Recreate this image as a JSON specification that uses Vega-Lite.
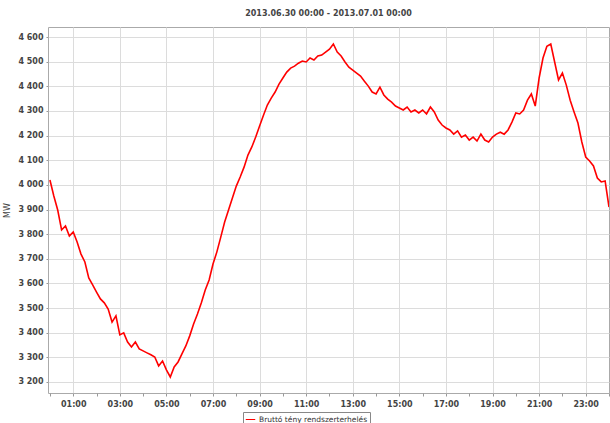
{
  "$schema": "https://vega.github.io/schema/vega-lite/v6.json",
  "width": 561,
  "height": 366,
  "autosize": "none",
  "padding": {"left": 48, "top": 27, "right": 1, "bottom": 30},
  "background": "white",
  "title": {"text": "2013.06.30 00:00 - 2013.07.01 00:00", "fontSize": 8, "fontWeight": "bold", "color": "#444", "font": "DejaVu Sans", "offset": 9, "anchor": "middle"},
  "config": {
    "view": {"stroke": "#aaa", "strokeWidth": 1},
    "axis": {"labelFont": "DejaVu Sans", "titleFont": "DejaVu Sans", "labelColor": "#444", "titleColor": "#444", "gridColor": "#dcdcdc", "domainColor": "#999", "tickColor": "#999"}
  },
  "data": {"values": [
    {"t":"2013-06-30T00:00:00","mw":4020},{"t":"2013-06-30T00:10:00","mw":3955},{"t":"2013-06-30T00:20:00","mw":3898},{"t":"2013-06-30T00:30:00","mw":3817},{"t":"2013-06-30T00:40:00","mw":3833},{"t":"2013-06-30T00:50:00","mw":3792},
    {"t":"2013-06-30T01:00:00","mw":3809},{"t":"2013-06-30T01:10:00","mw":3768},{"t":"2013-06-30T01:20:00","mw":3719},{"t":"2013-06-30T01:30:00","mw":3687},{"t":"2013-06-30T01:40:00","mw":3622},{"t":"2013-06-30T01:50:00","mw":3594},
    {"t":"2013-06-30T02:00:00","mw":3565},{"t":"2013-06-30T02:10:00","mw":3537},{"t":"2013-06-30T02:20:00","mw":3521},{"t":"2013-06-30T02:30:00","mw":3496},{"t":"2013-06-30T02:40:00","mw":3443},{"t":"2013-06-30T02:50:00","mw":3468},
    {"t":"2013-06-30T03:00:00","mw":3391},{"t":"2013-06-30T03:10:00","mw":3399},{"t":"2013-06-30T03:20:00","mw":3362},{"t":"2013-06-30T03:30:00","mw":3342},{"t":"2013-06-30T03:40:00","mw":3362},{"t":"2013-06-30T03:50:00","mw":3334},
    {"t":"2013-06-30T04:00:00","mw":3326},{"t":"2013-06-30T04:10:00","mw":3318},{"t":"2013-06-30T04:20:00","mw":3310},{"t":"2013-06-30T04:30:00","mw":3301},{"t":"2013-06-30T04:40:00","mw":3265},{"t":"2013-06-30T04:50:00","mw":3285},
    {"t":"2013-06-30T05:00:00","mw":3249},{"t":"2013-06-30T05:10:00","mw":3220},{"t":"2013-06-30T05:20:00","mw":3261},{"t":"2013-06-30T05:30:00","mw":3281},{"t":"2013-06-30T05:40:00","mw":3314},{"t":"2013-06-30T05:50:00","mw":3346},
    {"t":"2013-06-30T06:00:00","mw":3387},{"t":"2013-06-30T06:10:00","mw":3435},{"t":"2013-06-30T06:20:00","mw":3476},{"t":"2013-06-30T06:30:00","mw":3521},{"t":"2013-06-30T06:40:00","mw":3573},{"t":"2013-06-30T06:50:00","mw":3614},
    {"t":"2013-06-30T07:00:00","mw":3679},{"t":"2013-06-30T07:10:00","mw":3728},{"t":"2013-06-30T07:20:00","mw":3788},{"t":"2013-06-30T07:30:00","mw":3849},{"t":"2013-06-30T07:40:00","mw":3898},{"t":"2013-06-30T07:50:00","mw":3947},
    {"t":"2013-06-30T08:00:00","mw":3995},{"t":"2013-06-30T08:10:00","mw":4032},{"t":"2013-06-30T08:20:00","mw":4072},{"t":"2013-06-30T08:30:00","mw":4121},{"t":"2013-06-30T08:40:00","mw":4154},{"t":"2013-06-30T08:50:00","mw":4194},
    {"t":"2013-06-30T09:00:00","mw":4239},{"t":"2013-06-30T09:10:00","mw":4283},{"t":"2013-06-30T09:20:00","mw":4324},{"t":"2013-06-30T09:30:00","mw":4352},{"t":"2013-06-30T09:40:00","mw":4377},{"t":"2013-06-30T09:50:00","mw":4409},
    {"t":"2013-06-30T10:00:00","mw":4434},{"t":"2013-06-30T10:10:00","mw":4458},{"t":"2013-06-30T10:20:00","mw":4474},{"t":"2013-06-30T10:30:00","mw":4482},{"t":"2013-06-30T10:40:00","mw":4494},{"t":"2013-06-30T10:50:00","mw":4503},
    {"t":"2013-06-30T11:00:00","mw":4499},{"t":"2013-06-30T11:10:00","mw":4515},{"t":"2013-06-30T11:20:00","mw":4507},{"t":"2013-06-30T11:30:00","mw":4523},{"t":"2013-06-30T11:40:00","mw":4527},{"t":"2013-06-30T11:50:00","mw":4539},
    {"t":"2013-06-30T12:00:00","mw":4551},{"t":"2013-06-30T12:10:00","mw":4572},{"t":"2013-06-30T12:20:00","mw":4539},{"t":"2013-06-30T12:30:00","mw":4523},{"t":"2013-06-30T12:40:00","mw":4499},{"t":"2013-06-30T12:50:00","mw":4478},
    {"t":"2013-06-30T13:00:00","mw":4466},{"t":"2013-06-30T13:10:00","mw":4454},{"t":"2013-06-30T13:20:00","mw":4442},{"t":"2013-06-30T13:30:00","mw":4421},{"t":"2013-06-30T13:40:00","mw":4401},{"t":"2013-06-30T13:50:00","mw":4377},
    {"t":"2013-06-30T14:00:00","mw":4369},{"t":"2013-06-30T14:10:00","mw":4397},{"t":"2013-06-30T14:20:00","mw":4365},{"t":"2013-06-30T14:30:00","mw":4348},{"t":"2013-06-30T14:40:00","mw":4336},{"t":"2013-06-30T14:50:00","mw":4320},
    {"t":"2013-06-30T15:00:00","mw":4312},{"t":"2013-06-30T15:10:00","mw":4304},{"t":"2013-06-30T15:20:00","mw":4316},{"t":"2013-06-30T15:30:00","mw":4296},{"t":"2013-06-30T15:40:00","mw":4304},{"t":"2013-06-30T15:50:00","mw":4292},
    {"t":"2013-06-30T16:00:00","mw":4304},{"t":"2013-06-30T16:10:00","mw":4288},{"t":"2013-06-30T16:20:00","mw":4316},{"t":"2013-06-30T16:30:00","mw":4296},{"t":"2013-06-30T16:40:00","mw":4263},{"t":"2013-06-30T16:50:00","mw":4243},
    {"t":"2013-06-30T17:00:00","mw":4231},{"t":"2013-06-30T17:10:00","mw":4223},{"t":"2013-06-30T17:20:00","mw":4206},{"t":"2013-06-30T17:30:00","mw":4219},{"t":"2013-06-30T17:40:00","mw":4194},{"t":"2013-06-30T17:50:00","mw":4202},
    {"t":"2013-06-30T18:00:00","mw":4182},{"t":"2013-06-30T18:10:00","mw":4194},{"t":"2013-06-30T18:20:00","mw":4178},{"t":"2013-06-30T18:30:00","mw":4206},{"t":"2013-06-30T18:40:00","mw":4182},{"t":"2013-06-30T18:50:00","mw":4174},
    {"t":"2013-06-30T19:00:00","mw":4194},{"t":"2013-06-30T19:10:00","mw":4206},{"t":"2013-06-30T19:20:00","mw":4214},{"t":"2013-06-30T19:30:00","mw":4206},{"t":"2013-06-30T19:40:00","mw":4223},{"t":"2013-06-30T19:50:00","mw":4255},
    {"t":"2013-06-30T20:00:00","mw":4292},{"t":"2013-06-30T20:10:00","mw":4288},{"t":"2013-06-30T20:20:00","mw":4304},{"t":"2013-06-30T20:30:00","mw":4344},{"t":"2013-06-30T20:40:00","mw":4369},{"t":"2013-06-30T20:50:00","mw":4320},
    {"t":"2013-06-30T21:00:00","mw":4434},{"t":"2013-06-30T21:10:00","mw":4515},{"t":"2013-06-30T21:20:00","mw":4563},{"t":"2013-06-30T21:30:00","mw":4572},{"t":"2013-06-30T21:40:00","mw":4499},{"t":"2013-06-30T21:50:00","mw":4426},
    {"t":"2013-06-30T22:00:00","mw":4454},{"t":"2013-06-30T22:10:00","mw":4405},{"t":"2013-06-30T22:20:00","mw":4344},{"t":"2013-06-30T22:30:00","mw":4296},{"t":"2013-06-30T22:40:00","mw":4251},{"t":"2013-06-30T22:50:00","mw":4174},
    {"t":"2013-06-30T23:00:00","mw":4113},{"t":"2013-06-30T23:10:00","mw":4097},{"t":"2013-06-30T23:20:00","mw":4077},{"t":"2013-06-30T23:30:00","mw":4028},{"t":"2013-06-30T23:40:00","mw":4012},{"t":"2013-06-30T23:50:00","mw":4016},
    {"t":"2013-07-01T00:00:00","mw":3910}
  ]},
  "mark": {"type": "line", "strokeWidth": 1.6, "interpolate": "linear", "clip": true},
  "encoding": {
    "x": {
      "field": "t", "type": "temporal",
      "scale": {"domain": [{"year": 2013, "month": 6, "date": 29, "hours": 23, "minutes": 55}, {"year": 2013, "month": 7, "date": 1, "hours": 0}]},
      "axis": {
        "title": null,
        "tickCount": 24,
        "labelExpr": "hours(datum.value) % 2 == 1 ? timeFormat(datum.value, '%H:%M') : ''",
        "labelFontSize": 8, "labelFontWeight": "bold", "labelPadding": 4, "labelFlush": false, "labelOverlap": false,
        "tickSize": 3,
        "gridOpacity": {"condition": {"test": "hours(datum.value) % 2 == 1", "value": 1}, "value": 0},
        "domain": false
      }
    },
    "y": {
      "field": "mw", "type": "quantitative",
      "scale": {"domain": [3155, 4641], "nice": false, "zero": false},
      "axis": {
        "title": "MW", "titleFontSize": 8, "titleFontWeight": "normal", "titlePadding": 6,
        "values": [3200, 3300, 3400, 3500, 3600, 3700, 3800, 3900, 4000, 4100, 4200, 4300, 4400, 4500, 4600],
        "labelExpr": "replace(format(datum.value, ','), ',', ' ')",
        "labelFontSize": 8, "labelFontWeight": "bold", "tickSize": 2, "labelPadding": 3, "domain": false
      }
    },
    "color": {
      "datum": "Bruttó tény rendszerterhelés",
      "scale": {"range": ["#ff0000"]},
      "legend": {
        "title": null, "orient": "none", "legendX": 195, "legendY": 385,
        "symbolType": "stroke", "symbolStrokeWidth": 1, "symbolSize": 90,
        "labelFontSize": 7.5, "labelFont": "DejaVu Sans", "labelColor": "#333",
        "strokeColor": "#888", "padding": 2, "labelOffset": 3
      }
    }
  }
}
